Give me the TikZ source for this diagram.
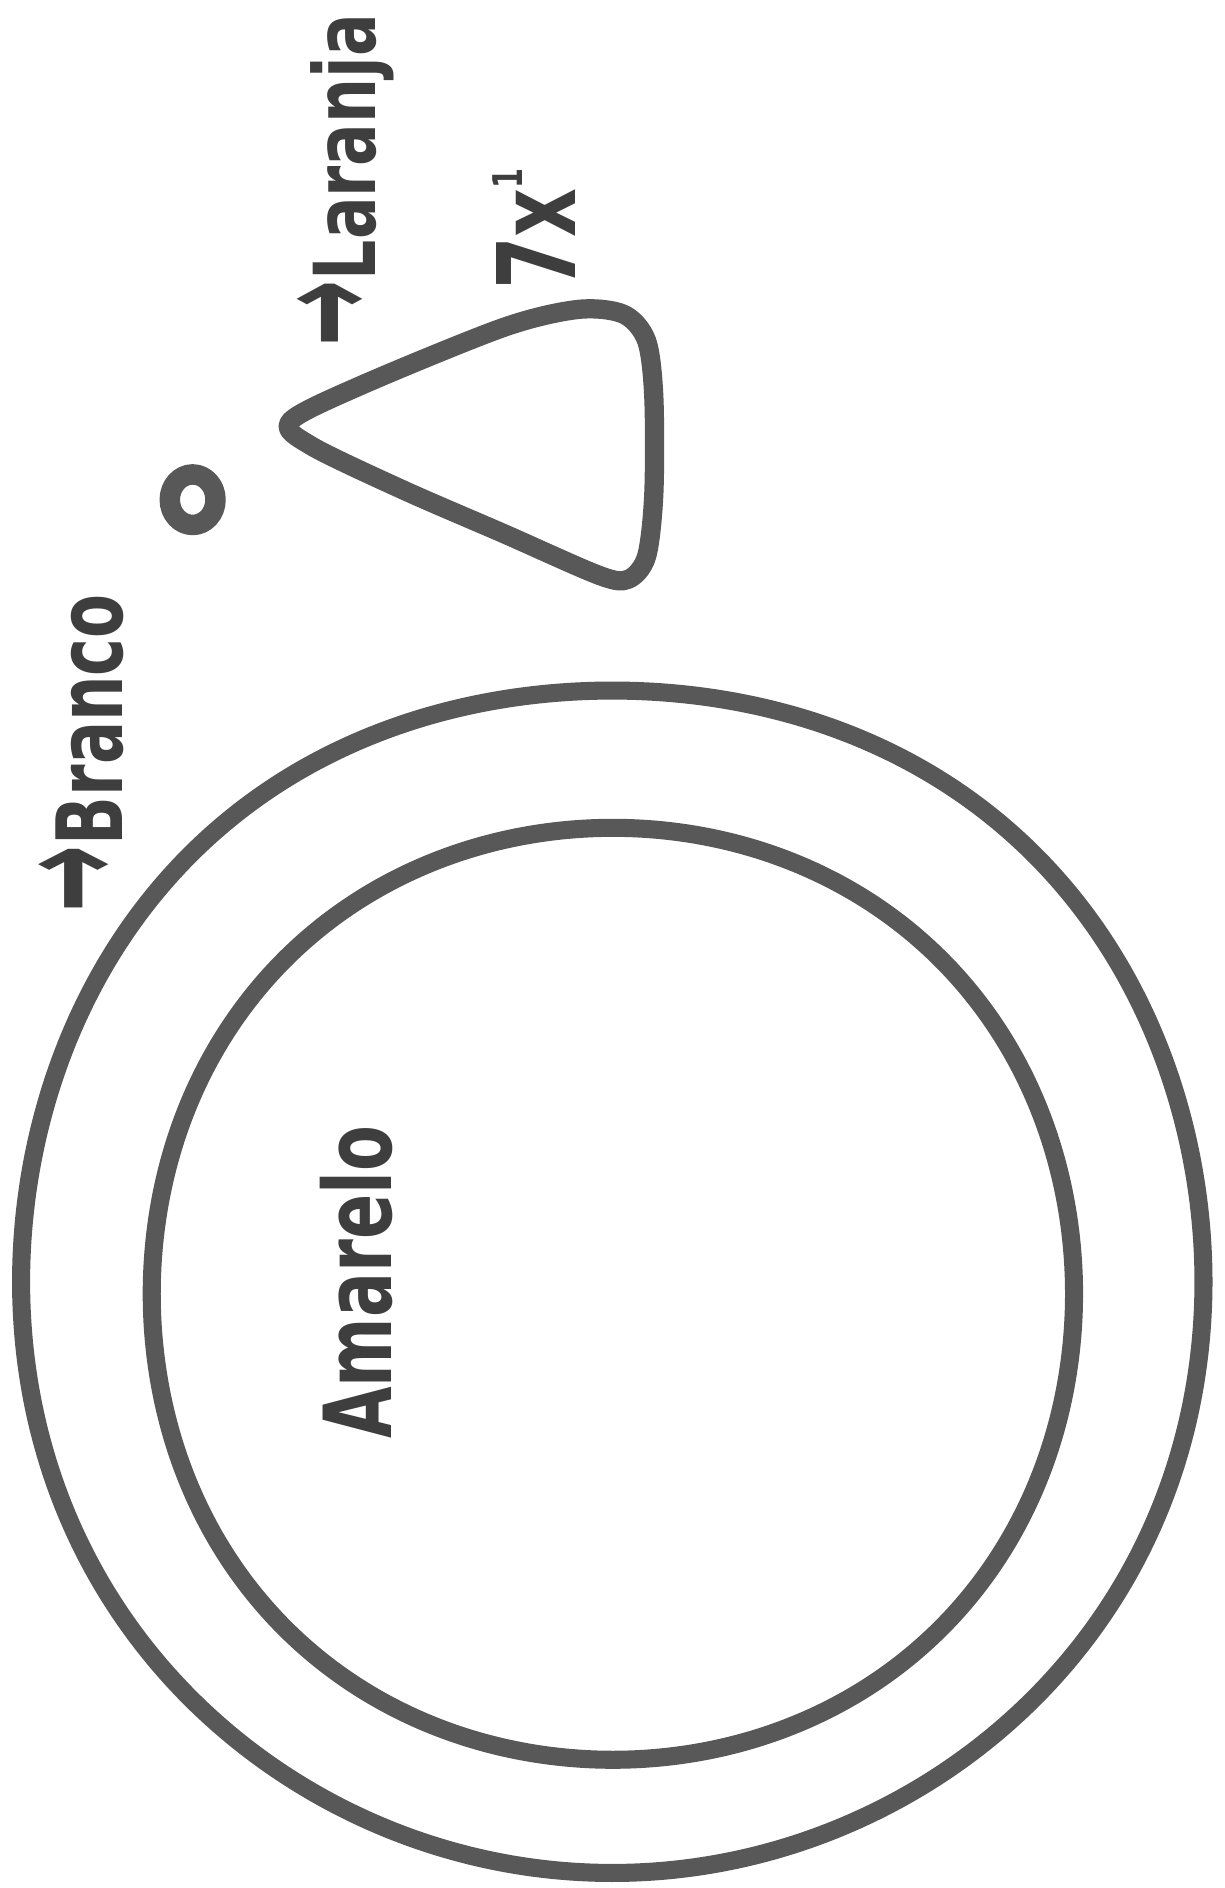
\documentclass[tikz,border=0pt]{standalone}
\usepackage{fontspec}
\setmainfont{DejaVu Sans}
\usepackage{graphicx}
\definecolor{inkc}{RGB}{88,88,88}
\definecolor{txtc}{RGB}{62,62,62}
\tikzset{
  ink/.style={draw=inkc, line width=15pt, line join=round, line cap=round},
  lab/.style={rotate=90, anchor=base west, inner sep=0pt, text=txtc},
  declare function={
    routr(\t)=491+0.5*(1-cos(4*\t))*(4.5+4.5*sin(\t));
    rinr(\t)=385-2*cos(2*\t)+2*(1-cos(4*\t));
  }
}
\newcommand{\bigarr}{\scalebox{1.25}[1.7]{→}}
\begin{document}
\begin{tikzpicture}[x=1pt,y=-1pt]
\fill[white] (0,0) rectangle (1017,1568);
\useasboundingbox (0,0) rectangle (1017,1568);
% outer ring
\draw[ink] plot[variable=\t, domain=0:358, samples=180, smooth cycle]
  ({508.5+routr(\t)*cos(\t)}, {1064.5-routr(\t)*sin(\t)});
% inner ring
\draw[ink] plot[variable=\t, domain=0:358, samples=180, smooth cycle]
  ({509+rinr(\t)*cos(\t)}, {1074.5-rinr(\t)*sin(\t)});
% small ring
\draw[ink, line width=17pt] (160,415) ellipse [x radius=19pt, y radius=21pt];
% triangle
\draw[ink, line width=16pt] plot[smooth cycle, tension=0.5] coordinates {
 (241,350) (300,320) (418,272) (480,257) (518,261) (537,283) (543,330) (543,410)
 (537,462) (522,481) (498,478) (418,443) (335,407) (258,370)};
% labels
\node[lab, font=\fontsize{76}{80}\selectfont\bfseries] (branco) at (102,758)
  {\scalebox{0.70}[1]{\bigarr Branco}};
\node[lab, font=\fontsize{71}{76}\selectfont\bfseries] (laranja) at (312,288)
  {\scalebox{0.74}[1]{\bigarr Laranja}};
\node[lab, font=\fontsize{78}{82}\selectfont\bfseries] (amarelo) at (325,1195)
  {\scalebox{0.71}[1]{Amarelo}};
\node[lab, font=\fontsize{90}{94}\selectfont\bfseries] (vezes) at (478,241)
  {\scalebox{0.70}[1]{7x\raisebox{44pt}{\fontsize{34}{34}\selectfont 1}}};
\end{tikzpicture}
\end{document}
